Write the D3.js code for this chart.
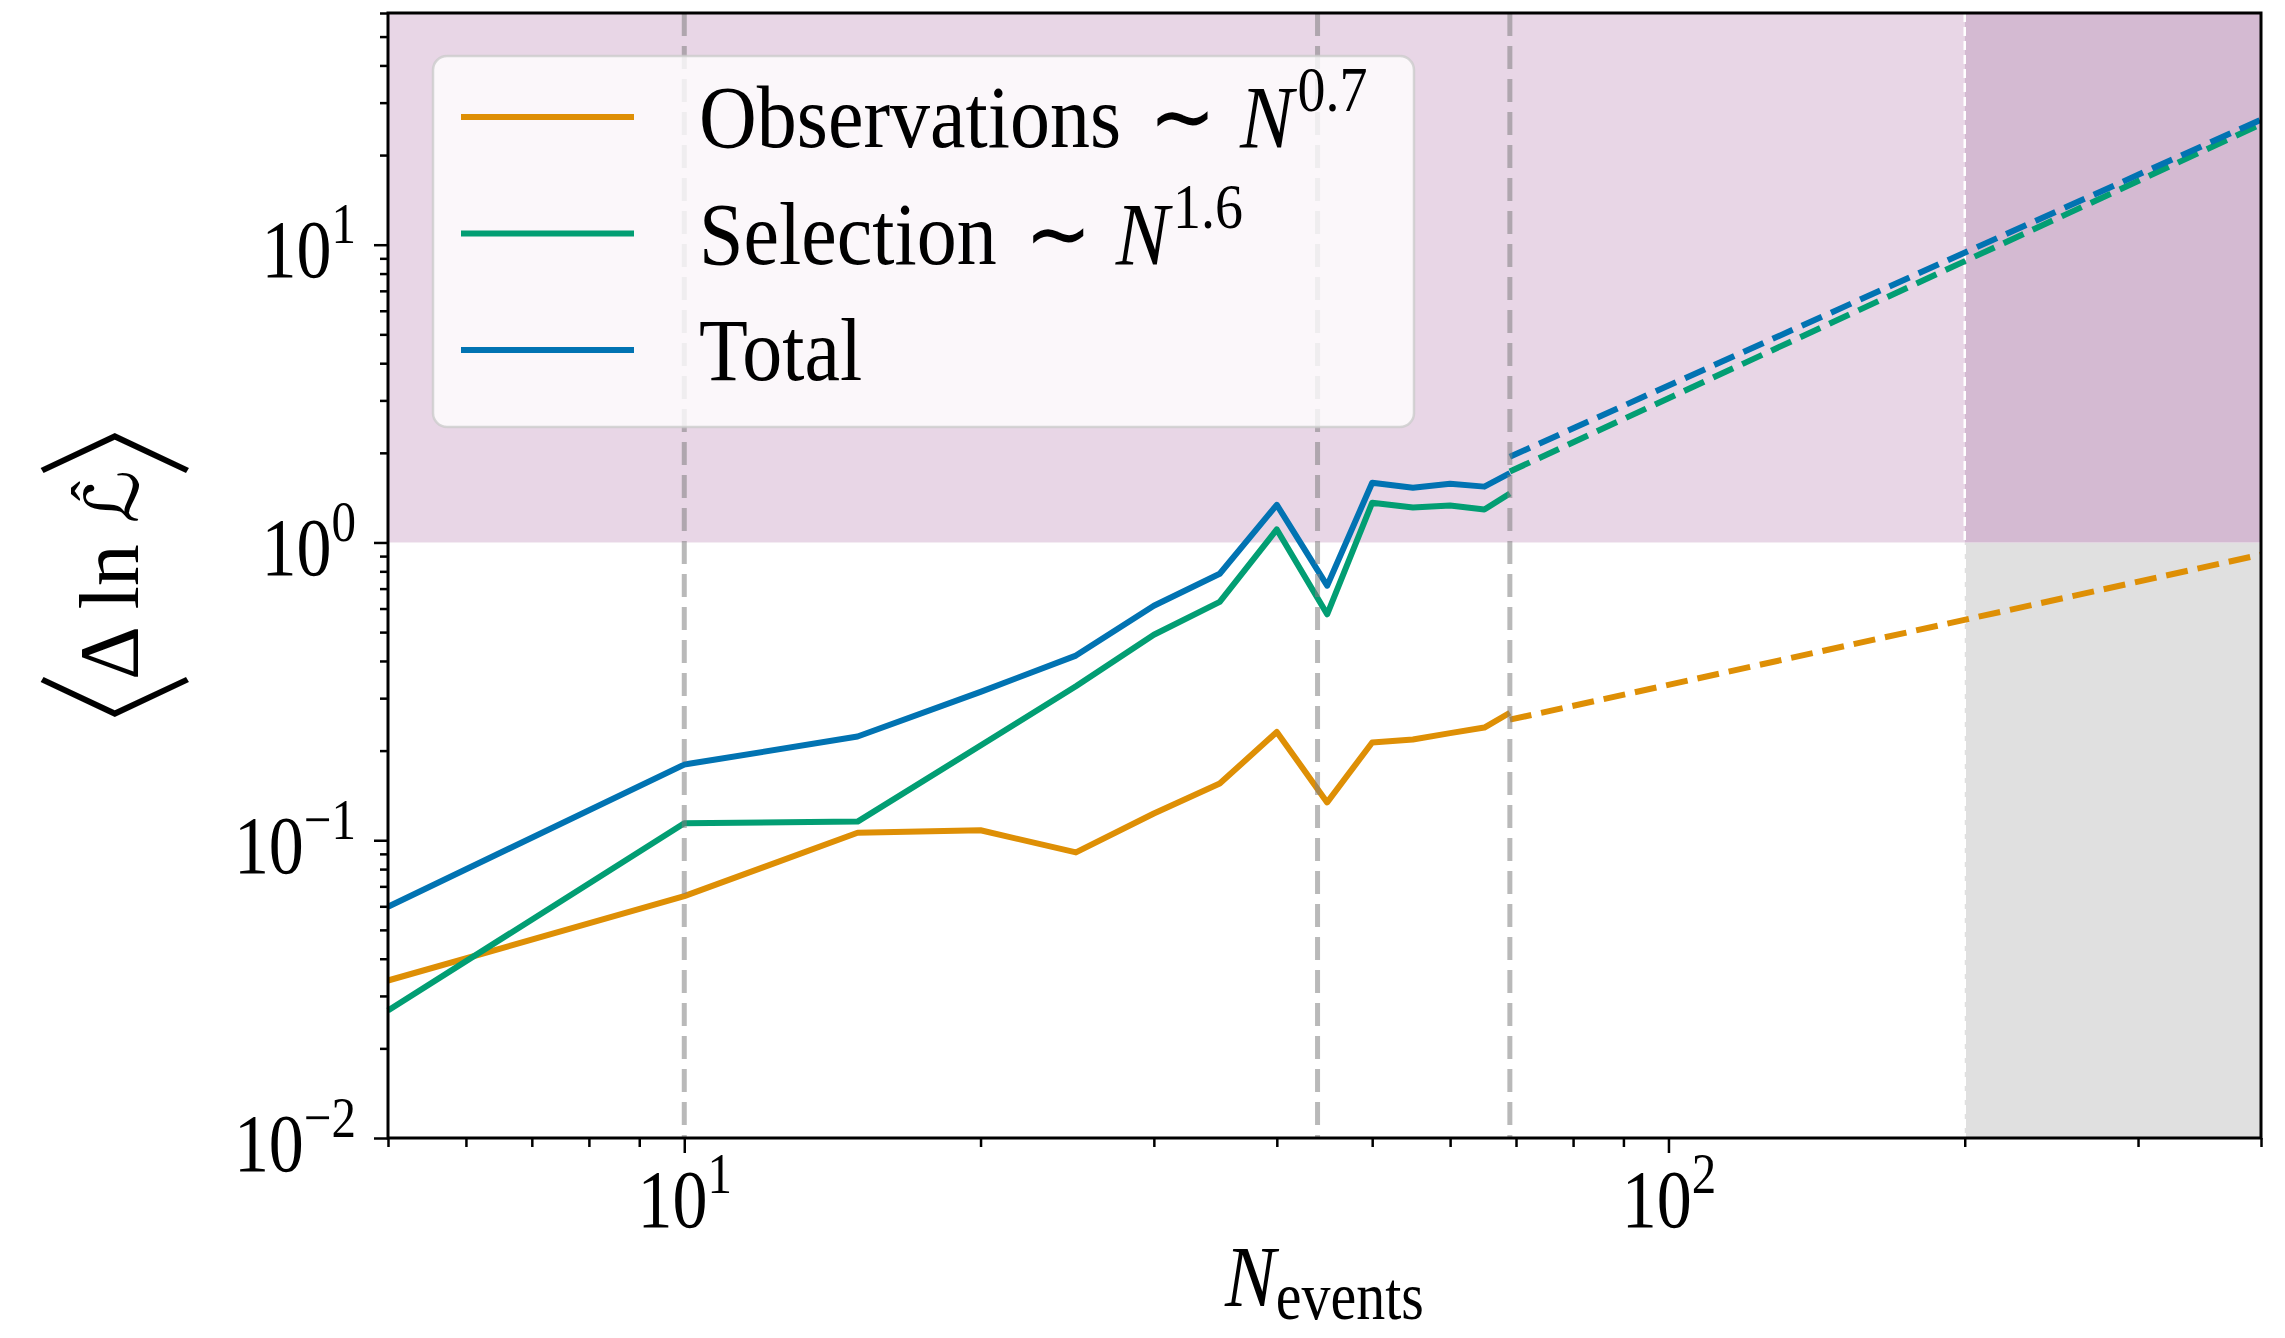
<!DOCTYPE html>
<html>
<head>
<meta charset="utf-8">
<script src="https://cdn.jsdelivr.net/npm/d3@7"></script>
<style>
  html, body { margin: 0; padding: 0; background: #fff; }
  svg { display: block; }
  text { font-family: "Liberation Serif", "DejaVu Serif", serif; fill: #000; }
</style>
</head>
<body>
<div id="chart"></div>
<script>
// data
const n_events = [5, 10, 15, 20, 25, 30, 35, 40, 45, 50, 55, 60, 65, 69];
const obs_vals = [0.0338, 0.0649, 0.106, 0.108, 0.091, 0.123, 0.155, 0.231, 0.134, 0.213, 0.218, 0.229, 0.239, 0.268];
const sel_vals = [0.0268, 0.114, 0.1155, 0.208, 0.329, 0.490, 0.632, 1.106, 0.574, 1.36, 1.31, 1.33, 1.29, 1.46];
const tot_vals = [0.0598, 0.1795, 0.223, 0.315, 0.417, 0.613, 0.785, 1.338, 0.716, 1.586, 1.527, 1.574, 1.54, 1.71];

// power-law extrapolations (straight in log-log), start and end
const fit_n = [69, 400];
const obs_fit = [0.254, 0.91];
const sel_fit = [1.73, 25.4];
const tot_fit = [1.94, 26.3];

const marker_n = [10, 44, 69];        // vertical dashed lines
const forecast_n = [200, 400];        // grey band
const threshold = 1;                  // purple band above this

const x_major = [10, 100];
const x_exp = ['1', '2'];
const y_major = [0.01, 0.1, 1, 10];
const y_exp = ['\u22122', '\u22121', '0', '1'];

const legend_items = [
  {label: 'Observations', exp: '0.7', color: '#de8f05'},
  {label: 'Selection', exp: '1.6', color: '#029e73'},
  {label: 'Total', exp: null, color: '#0173b2'}
];

const W = 2285, H = 1338;
const margin = {t: 13, r: 24, b: 200, l: 388};

const svg = d3.select('#chart').append('svg').attr('width', W).attr('height', H);

const xScale = d3.scaleLog([5, 400], [margin.l, W - margin.r]);
const yScale = d3.scaleLog([0.01, 60], [H - margin.b, margin.t]);
const [x0, x1] = xScale.range();
const [y0, y1] = yScale.range();

// shaded regions
const bg = svg.append('g');
bg.append('rect').attr('x', xScale(forecast_n[0])).attr('width', xScale(forecast_n[1]) - xScale(forecast_n[0]))
  .attr('y', yScale(threshold)).attr('height', y0 - yScale(threshold)).attr('fill', '#e0e0e0');
bg.append('rect').attr('x', x0).attr('width', xScale(forecast_n[0]) - x0)
  .attr('y', y1).attr('height', yScale(threshold) - y1).attr('fill', '#e8d6e6');
bg.append('rect').attr('x', xScale(forecast_n[0])).attr('width', xScale(forecast_n[1]) - xScale(forecast_n[0]))
  .attr('y', y1).attr('height', yScale(threshold) - y1).attr('fill', '#d4bad2');
bg.append('line').attr('x1', xScale(forecast_n[0])).attr('x2', xScale(forecast_n[0]))
  .attr('y1', y1).attr('y2', y0).attr('stroke', '#fff').attr('stroke-width', 2.5).attr('stroke-dasharray', '9 5');

// lines
const line = d3.line().x(d => xScale(d[0])).y(d => yScale(d[1]));
const series = [
  {vals: obs_vals, fit: obs_fit, color: '#de8f05'},
  {vals: sel_vals, fit: sel_fit, color: '#029e73'},
  {vals: tot_vals, fit: tot_fit, color: '#0173b2'}
];
const lines_g = svg.append('g');
series.forEach(s => {
  lines_g.append('path').attr('d', line(d3.zip(fit_n, s.fit)))
    .attr('stroke', s.color).attr('stroke-width', 6).attr('fill', 'none').attr('stroke-dasharray', '22 10');
  lines_g.append('path').attr('d', line(d3.zip(n_events, s.vals)))
    .attr('stroke', s.color).attr('stroke-width', 6).attr('fill', 'none').attr('stroke-linejoin', 'round');
});

// vertical markers
svg.append('g').selectAll('line').data(marker_n).join('line')
  .attr('x1', d => xScale(d)).attr('x2', d => xScale(d))
  .attr('y1', y1).attr('y2', y0)
  .attr('stroke', '#808080').attr('stroke-opacity', 0.55).attr('stroke-width', 5).attr('stroke-dasharray', '23 10');

// axes
const minor = (lo, hi) => {
  const out = [];
  for (let e = -3; e < 4; e++) for (let k = 2; k < 10; k++) {
    const v = k * Math.pow(10, e);
    if (v >= lo * 0.999 && v <= hi * 1.001) out.push(v);
  }
  return out;
};
const styleAxis = g => {
  g.select('.domain').remove();
  g.selectAll('.tick line').attr('stroke', '#000').attr('stroke-width', 2.5);
  g.selectAll('.tick text').remove();
};

svg.append('g').attr('transform', `translate(0,${y0})`)
  .call(d3.axisBottom(xScale).tickValues(minor(5, 400)).tickSize(9).tickFormat(''))
  .call(styleAxis);
const xg = svg.append('g').attr('transform', `translate(0,${y0})`)
  .call(d3.axisBottom(xScale).tickValues(x_major).tickSize(15).tickFormat(''))
  .call(styleAxis);
xg.selectAll('.tick').each(function(d, i) {
  const t = d3.select(this).append('text').attr('text-anchor', 'middle')
    .attr('transform', 'translate(0,89) scale(1,1.17)').attr('font-size', 70);
  t.append('tspan').text('10');
  t.append('tspan').attr('dy', -29).attr('font-size', 49).text(x_exp[i]);
});

svg.append('g').attr('transform', `translate(${x0},0)`)
  .call(d3.axisLeft(yScale).tickValues(minor(0.01, 60)).tickSize(8).tickFormat(''))
  .call(styleAxis);
const yg = svg.append('g').attr('transform', `translate(${x0},0)`)
  .call(d3.axisLeft(yScale).tickValues(y_major).tickSize(14).tickFormat(''))
  .call(styleAxis);
yg.selectAll('.tick').each(function(d, i) {
  const t = d3.select(this).append('text').attr('text-anchor', 'end')
    .attr('transform', 'translate(-32,32) scale(1,1.17)').attr('font-size', 70);
  t.append('tspan').text('10');
  t.append('tspan').attr('dy', -29).attr('font-size', 49).text(y_exp[i]);
});

// frame
svg.append('rect').attr('x', x0).attr('y', y1).attr('width', x1 - x0).attr('height', y0 - y1)
  .attr('fill', 'none').attr('stroke', '#000').attr('stroke-width', 3);

// axis labels
const xl = svg.append('text').attr('text-anchor', 'middle')
  .attr('transform', `translate(${(x0 + x1) / 2},1306) scale(1,1.15)`).attr('font-size', 76);
xl.append('tspan').attr('font-style', 'italic').text('N');
xl.append('tspan').attr('dy', 11).attr('font-size', 58).text('events');

// y label, rotated; big thin angle brackets
const yl = svg.append('g').attr('transform', 'translate(138,575) rotate(-90)');
yl.append('text').attr('x', -164).attr('y', -20).attr('text-anchor', 'middle').attr('dominant-baseline', 'central')
  .attr('font-family', 'Noto Sans CJK JP').attr('font-weight', 200).attr('font-size', 168).text('\u3008');
yl.append('text').attr('x', 164).attr('y', -20).attr('text-anchor', 'middle').attr('dominant-baseline', 'central')
  .attr('font-family', 'Noto Sans CJK JP').attr('font-weight', 200).attr('font-size', 168).text('\u3009');
const ylt = yl.append('text').attr('x', -105).attr('y', 0).attr('font-size', 84);
ylt.append('tspan').text('\u0394 ln ');
ylt.append('tspan').attr('font-family', 'DejaVu Sans').attr('font-size', 74).text('\u2112');
yl.append('text').attr('x', 84).attr('y', -26).attr('text-anchor', 'middle').attr('font-size', 60).text('\u02C6');

// legend
const lg = svg.append('g');
lg.append('rect').attr('x', 433).attr('y', 56).attr('width', 981).attr('height', 371).attr('rx', 14)
  .attr('fill', '#fff').attr('fill-opacity', 0.8).attr('stroke', '#cccccc').attr('stroke-opacity', 0.8).attr('stroke-width', 2.5);
legend_items.forEach((d, i) => {
  const cy = 117 + i * 116.5;
  lg.append('line').attr('x1', 461).attr('x2', 634).attr('y1', cy).attr('y2', cy)
    .attr('stroke', d.color).attr('stroke-width', 6);
  const t = lg.append('text').attr('transform', `translate(699,${cy + 30}) scale(1,1.12)`).attr('font-size', 80);
  t.append('tspan').text(d.label);
  if (d.exp) {
    t.append('tspan').attr('dx', 28).attr('font-family', 'DejaVu Sans').text('\u223C');
    t.append('tspan').attr('dx', 24).attr('font-style', 'italic').text('N');
    t.append('tspan').attr('dy', -32).attr('dx', 4).attr('font-size', 56).text(d.exp);
  }
});
</script>
</body>
</html>
